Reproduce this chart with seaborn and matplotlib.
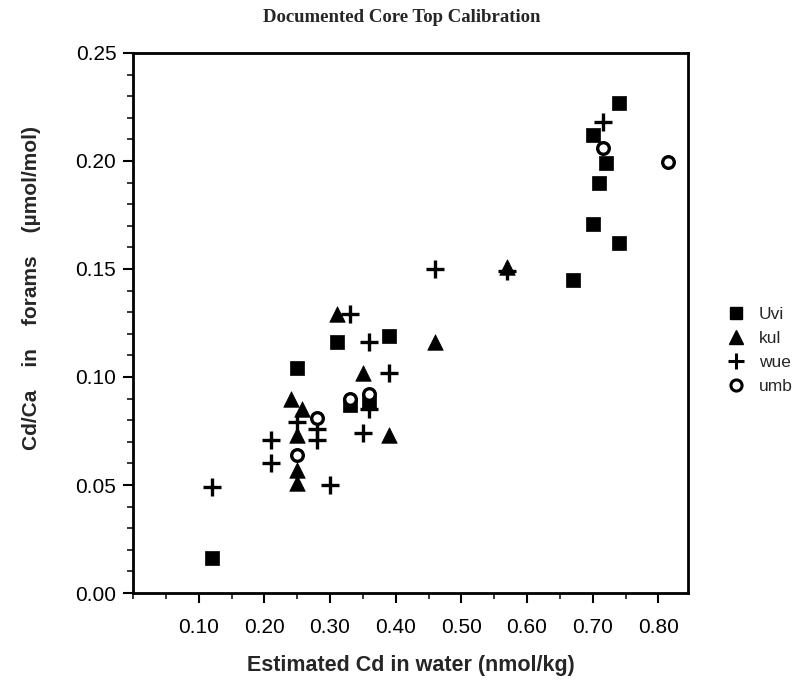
import matplotlib
matplotlib.use("Agg")
import matplotlib.pyplot as plt
import seaborn as sns
import pandas as pd
from matplotlib.ticker import MultipleLocator, FixedLocator
from matplotlib.lines import Line2D

# ---- data ----
uvi_x = [0.12, 0.25, 0.31, 0.39, 0.33, 0.36, 0.67, 0.74, 0.70, 0.72, 0.71, 0.70, 0.74]
uvi_y = [0.016, 0.104, 0.116, 0.119, 0.087, 0.088, 0.145, 0.227, 0.212, 0.199, 0.190, 0.171, 0.162]

kul_x = [0.24, 0.257, 0.25, 0.25, 0.25, 0.31, 0.35, 0.39, 0.46, 0.57]
kul_y = [0.090, 0.085, 0.073, 0.057, 0.051, 0.129, 0.102, 0.073, 0.116, 0.151]

wue_x = [0.12, 0.21, 0.21, 0.25, 0.28, 0.28, 0.30, 0.33, 0.36, 0.39, 0.35, 0.36, 0.46, 0.57, 0.715]
wue_y = [0.049, 0.071, 0.060, 0.079, 0.076, 0.071, 0.050, 0.129, 0.116, 0.102, 0.074, 0.085, 0.150, 0.149, 0.218]

umb_x = [0.25, 0.28, 0.33, 0.36, 0.715, 0.815]
umb_y = [0.064, 0.081, 0.090, 0.092, 0.206, 0.1995]

species = ["Uvi", "kul", "wue", "umb"]
x_ticks = [0.10, 0.20, 0.30, 0.40, 0.50, 0.60, 0.70, 0.80]
x_tick_labels = ["0.10", "0.20", "0.30", "0.40", "0.50", "0.60", "0.70", "0.80"]
y_ticks = [0.00, 0.05, 0.10, 0.15, 0.20, 0.25]
y_tick_labels = ["0.00", "0.05", "0.10", "0.15", "0.20", "0.25"]

frames = []
for name, xs, ys in [("Uvi", uvi_x, uvi_y), ("kul", kul_x, kul_y),
                     ("wue", wue_x, wue_y), ("umb", umb_x, umb_y)]:
    frames.append(pd.DataFrame({"x": xs, "y": ys, "species": name}))
df = pd.concat(frames, ignore_index=True)

sns.set_style("ticks")
plt.rcParams["font.family"] = ["Liberation Sans", "DejaVu Sans"]

fig = plt.figure(figsize=(8.07, 6.87), dpi=100)
ax = fig.add_axes([0.1648, 0.1368, 0.6877, 0.7861])

styles = {
    "Uvi": dict(marker="s", s=110, color="black", edgecolor="black", linewidth=0.5),
    "kul": dict(marker="^", s=125, color="black", edgecolor="black", linewidth=0.5),
    "wue": dict(marker="+", s=150, color="black", linewidth=2.4),
    "umb": dict(marker="o", s=70, facecolor="white", edgecolor="black", linewidth=2.4),
}
for sp in species:
    sub = df[df["species"] == sp]
    sns.scatterplot(data=sub, x="x", y="y", ax=ax, legend=False, zorder=3, **styles[sp])

ax.set_xlim(0.0, 0.845)
ax.set_ylim(0.0, 0.25)

ax.xaxis.set_major_locator(FixedLocator(x_ticks))
ax.set_xticklabels(x_tick_labels)
ax.xaxis.set_minor_locator(MultipleLocator(0.05))
ax.yaxis.set_major_locator(FixedLocator(y_ticks))
ax.set_yticklabels(y_tick_labels)
ax.yaxis.set_minor_locator(MultipleLocator(0.01))

ax.tick_params(axis="both", which="major", direction="out", length=7, width=1.5,
               labelsize=15, colors="black")
ax.tick_params(axis="x", which="major", pad=11)
ax.tick_params(axis="y", which="major", pad=5)
ax.tick_params(axis="both", which="minor", direction="out", length=4, width=1.3)
for sp_ in ax.spines.values():
    sp_.set_linewidth(2.0)
    sp_.set_color("black")

ax.set_xlabel("Estimated Cd in water (nmol/kg)", fontsize=15.5, fontweight="bold")
ax.xaxis.set_label_coords(0.5, -0.115)
ax.set_ylabel("Cd/Ca    in    forams    (\u00b5mol/mol)", fontsize=15, fontweight="bold")
ax.yaxis.set_label_coords(-0.165, 0.565)

fig.text(0.498, 0.975, "Documented Core Top Calibration", ha="center", va="center",
         fontsize=13.5, fontweight="bold", family="Liberation Serif")

handles = [
    Line2D([], [], linestyle="none", marker="s", markersize=9, color="black"),
    Line2D([], [], linestyle="none", marker="^", markersize=10, color="black"),
    Line2D([], [], linestyle="none", marker="+", markersize=11, markeredgewidth=2.2, color="black"),
    Line2D([], [], linestyle="none", marker="o", markersize=8, markerfacecolor="white",
           markeredgecolor="black", markeredgewidth=2.2),
]
fig.legend(handles, species, loc="center left", bbox_to_anchor=(0.893, 0.49),
           frameon=False, fontsize=12.5, handletextpad=0.8, labelspacing=0.5,
           borderaxespad=0, handlelength=1.0)

fig.savefig("out.png", dpi=100)
